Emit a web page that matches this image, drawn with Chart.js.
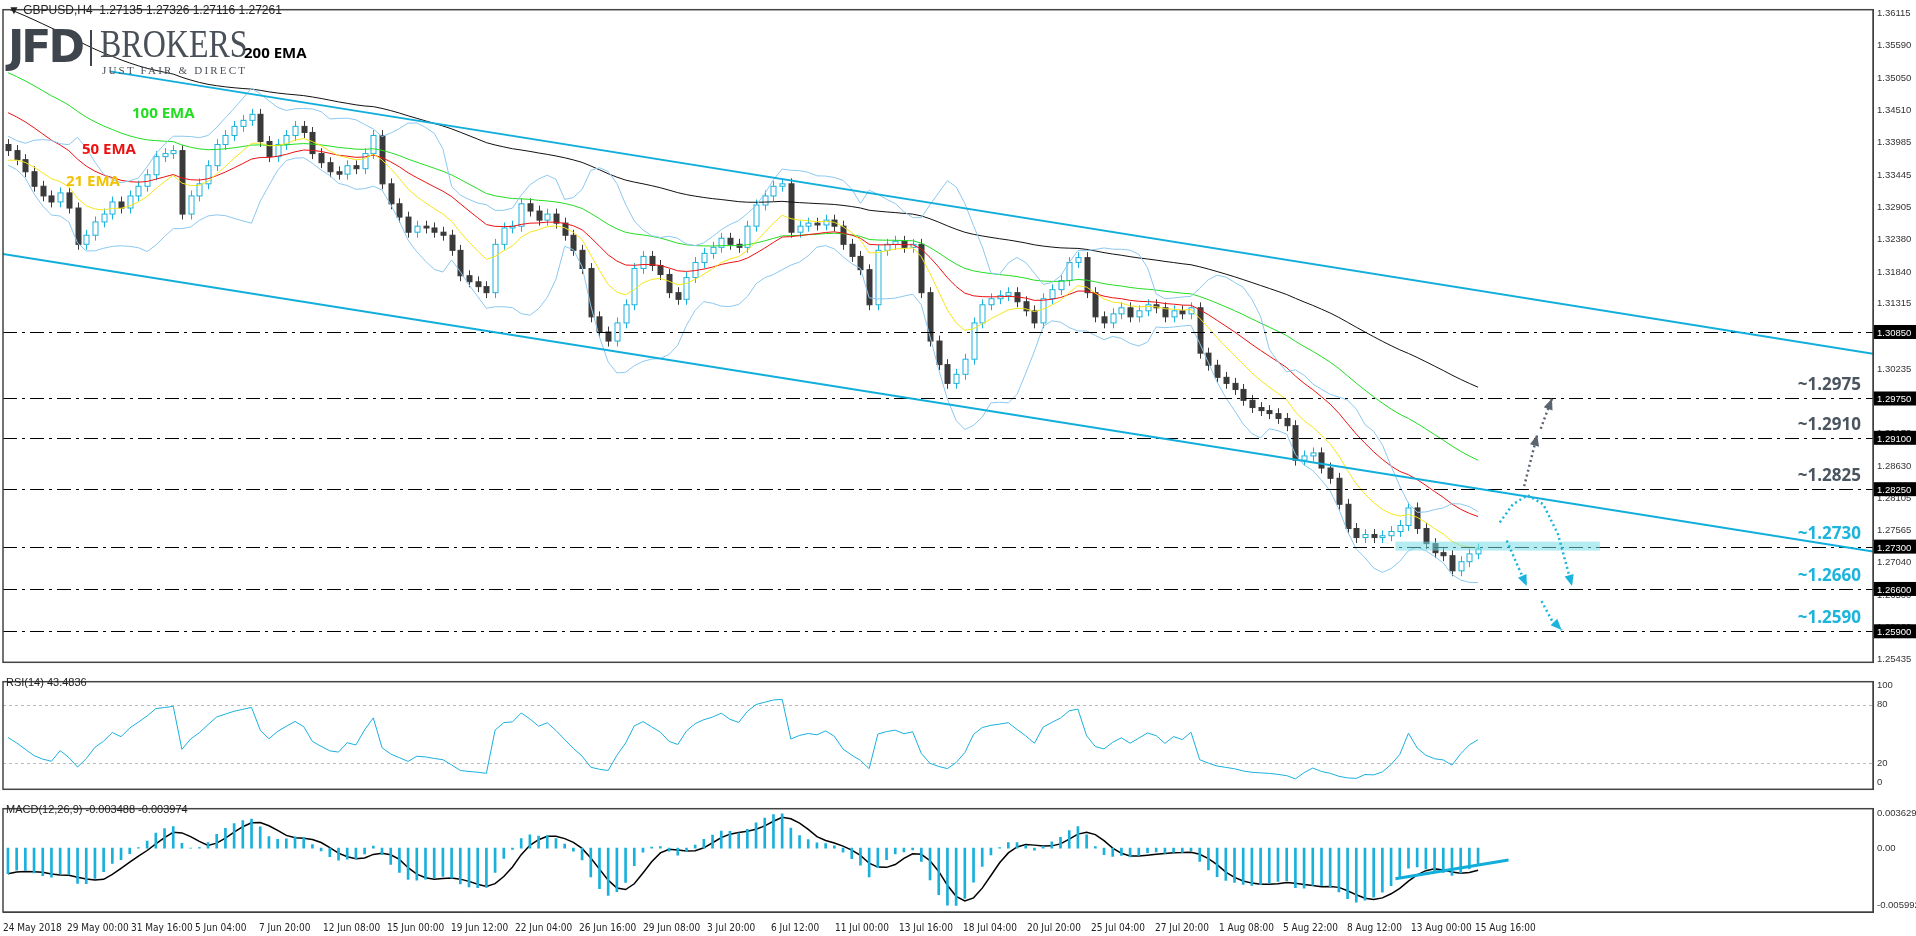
<!DOCTYPE html>
<html><head><meta charset="utf-8">
<script src="https://cdn.jsdelivr.net/npm/chart.js@4.4.1/dist/chart.umd.min.js"></script>
<style>
body{margin:0;background:#fff;width:1916px;height:936px;overflow:hidden;font-family:"Liberation Sans",Arial,sans-serif;position:relative}
.p{position:absolute;left:0;width:1916px}
.t{position:absolute;white-space:nowrap}
</style></head><body>
<div class="p" style="top:0;height:672px"><canvas id="c1"></canvas></div>
<div class="p" style="top:672px;height:127px"><canvas id="c2"></canvas></div>
<div class="p" style="top:799px;height:137px"><canvas id="c3"></canvas></div>
<div class="t" style="left:8px;top:3px;font-size:12px;color:#222">&#9660; GBPUSD,H4&nbsp; 1.27135 1.27326 1.27116 1.27261</div>
<div class="t" style="left:8px;top:22px;font-family:'DejaVu Sans';font-weight:bold;font-size:44px;line-height:50px;color:#3f454d;letter-spacing:-3px">JFD</div>
<div class="t" style="left:90px;top:30px;width:2px;height:36px;background:#3f454d"></div>
<div class="t" style="left:100px;top:24px;font-family:'Liberation Serif';font-size:40px;line-height:40px;color:#4a5058;transform:scaleX(0.8);transform-origin:0 0">BROKERS</div>
<div class="t" style="left:102px;top:64px;font-family:'Liberation Serif';font-size:11px;color:#4a5058;letter-spacing:2.2px">JUST FAIR &amp; DIRECT</div>
<div class="t" style="left:244px;top:42px;font-family:'Open Sans';font-weight:bold;font-size:15px;color:#000">200 EMA</div>
<div class="t" style="left:132px;top:102px;font-family:'Open Sans';font-weight:bold;font-size:15px;color:#22dd22">100 EMA</div>
<div class="t" style="left:82px;top:138px;font-family:'Open Sans';font-weight:bold;font-size:15px;color:#ee1111">50 EMA</div>
<div class="t" style="left:66px;top:170px;font-family:'Open Sans';font-weight:bold;font-size:15px;color:#f2c200">21 EMA</div>
<div class="t" style="left:6px;top:676px;font-size:11px;color:#222">RSI(14) 43.4836</div>
<div class="t" style="left:6px;top:803px;font-size:11px;color:#222">MACD(12,26,9) -0.003488 -0.003974</div>
<script>
const closes=[1.3385,1.3370,1.3350,1.3326,1.3310,1.3300,1.3315,1.3290,
1.3230,1.3245,1.3267,1.3280,1.3300,1.3290,
1.3310,1.3326,1.3345,1.3375,1.3380,1.3385,
1.3280,1.3310,1.3330,1.3360,1.3395,1.3410,1.3425,1.3435,
1.3445,1.3400,1.3375,1.3395,1.3410,1.3425,1.3415,
1.3380,1.3365,1.3350,1.3346,1.3360,1.3355,1.3380,1.3410,1.3330,
1.3297,1.3275,1.3250,1.3260,1.3257,1.3250,1.3245,1.3220,
1.3178,1.3168,1.3160,1.3150,1.3230,
1.3257,1.3260,1.3297,1.3285,1.3270,1.3280,1.3265,
1.3245,1.3220,1.3190,1.3110,1.3085,1.3070,1.3100,
1.3130,1.3190,1.3210,1.3195,1.3180,1.3150,1.3139,1.3175,
1.3200,1.3215,1.3225,1.3240,1.3230,1.3225,1.3260,1.3295,1.3310,1.3326,
1.3330,1.3250,1.3260,1.3265,1.3262,1.3270,1.3260,1.3230,
1.3210,1.3188,1.3130,1.3220,1.3230,1.3235,1.3225,1.3230,
1.3150,1.3070,1.3031,1.3000,1.3015,1.3040,1.3100,
1.3130,1.3140,1.3145,1.3150,1.3135,1.3120,1.3100,1.3140,
1.3155,1.3170,1.3200,1.3208,1.3150,1.3110,1.3100,
1.3115,1.3125,1.3110,1.3120,1.3130,1.3125,1.3110,1.3120,1.3115,1.3125,
1.3050,1.3030,1.3010,1.3000,1.2990,1.2972,1.2960,
1.2955,1.2950,1.2942,1.2930,1.2873,1.2880,
1.2885,1.2860,1.2843,1.2800,1.2760,1.2745,1.2750,
1.2745,1.2748,1.2755,1.2765,1.2794,1.2760,
1.2735,1.2720,1.2715,1.2690,1.2705,1.2718,1.2726];
const firstOpen=1.3395;
const wick=0.0009;
const dateLabels=["24 May 2018","29 May 00:00","31 May 16:00","5 Jun 04:00","7 Jun 20:00","12 Jun 08:00","15 Jun 00:00","19 Jun 12:00","22 Jun 04:00","26 Jun 16:00","29 Jun 08:00","3 Jul 20:00","6 Jul 12:00","11 Jul 00:00","13 Jul 16:00","18 Jul 04:00","20 Jul 20:00","25 Jul 04:00","27 Jul 20:00","1 Aug 08:00","5 Aug 22:00","8 Aug 12:00","13 Aug 00:00","15 Aug 16:00"];
const priceTicks=[1.36115,1.35590,1.35050,1.34510,1.33985,1.33445,1.32905,1.32380,1.31840,1.31315,1.30775,1.30235,1.29710,1.29170,1.28630,1.28105,1.27565,1.27040,1.26500,1.25960,1.25435];
const levels=[1.30850,1.29750,1.29100,1.28250,1.27300,1.26600,1.25900];
const levelNotes=[["~1.2975",1.2975,"#4a5560"],["~1.2910",1.2910,"#4a5560"],["~1.2825",1.2825,"#4a5560"],["~1.2730",1.2730,"#1cb4dc"],["~1.2660",1.2660,"#1cb4dc"],["~1.2590",1.2590,"#1cb4dc"]];
const emaSeeds={e21:1.3365,e50:1.3454,e100:1.3520,e200:1.3625};
const upperChannel=[[11.7,1.3516],[214.4,1.3049]];
const lowerChannel=[[-0.57,1.3214],[214.4,1.2722]];
const macdTrend=[[159.5,-0.0032],[172.5,-0.00123]];

const XMIN=-0.57,XMAX=214.4;
const opens=closes.map((c,i)=>i?closes[i-1]:firstOpen);
const highs=closes.map((c,i)=>Math.max(c,opens[i])+wick);
const lows=closes.map((c,i)=>Math.min(c,opens[i])-wick);
function ema(a,p,seed){let r=[],v=seed;a.forEach(x=>{v=v+(x-v)*2/(p+1);r.push(v)});return r}
const e21=ema(closes,9,emaSeeds.e21),e50=ema(closes,21,emaSeeds.e50),e100=ema(closes,43,emaSeeds.e100),e200=ema(closes,86,emaSeeds.e200);
const bbU=[],bbL=[];
closes.forEach((c,i)=>{const s=closes.slice(Math.max(0,i-8),i+1);const m=s.reduce((a,b)=>a+b)/s.length;const sd=Math.sqrt(s.reduce((a,b)=>a+(b-m)**2,0)/s.length);bbU.push(m+2*Math.max(sd,0.0012));bbL.push(m-2*Math.max(sd,0.0012));});
let ag=0.0012,al=0.0012;const rsi=closes.map((c,i)=>{const d=c-opens[i];ag=(ag*5+Math.max(d,0))/6;al=(al*5+Math.max(-d,0))/6;return 100-100/(1+ag/al)});
const f=ema(closes,5,1.3370),s=ema(closes,11,1.3405);const macd=f.map((v,i)=>v-s[i]);
const sig=macd.map((v,i)=>{const w=macd.slice(Math.max(0,i-3),i+1);return w.reduce((a,b)=>a+b)/w.length});
const pts=a=>a.map((v,i)=>({x:i,y:v}));
const fontAx={family:"Liberation Sans",size:9.5};
const xHidden={type:'linear',min:XMIN,max:XMAX,display:false};
function yAxis(min,max,ticks,fmt){return{position:'right',min,max,grid:{display:false,drawTicks:false},border:{color:'#333'},
 afterBuildTicks:a=>{a.ticks=ticks.map(v=>({value:v}))},afterFit:a=>{a.width=43},
 ticks:{font:fontAx,color:'#333',padding:4,callback:fmt,autoSkip:false}}}
const frame={id:'frame',afterDraw(ch){const a=ch.chartArea,c=ch.ctx;c.save();c.strokeStyle='#444';c.lineWidth=1.5;c.strokeRect(a.left,a.top,a.right-a.left,a.bottom-a.top);c.restore();}};
const ann={id:'ann',afterDatasetsDraw(ch){const c=ch.ctx,X=ch.scales.x,Y=ch.scales.y,a=ch.chartArea;c.save();
 c.beginPath();c.rect(a.left,a.top,a.right-a.left,a.bottom-a.top);c.clip();
 c.strokeStyle='#000';c.lineWidth=1;c.setLineDash([14,5,3,5]);
 levels.forEach(l=>{const y=Math.round(Y.getPixelForValue(l))+0.5;c.beginPath();c.moveTo(a.left,y);c.lineTo(a.right,y);c.stroke();});
 c.setLineDash([]);c.strokeStyle='#12aedb';c.lineWidth=2;
 [upperChannel,lowerChannel].forEach(l=>{c.beginPath();c.moveTo(X.getPixelForValue(l[0][0]),Y.getPixelForValue(l[0][1]));c.lineTo(X.getPixelForValue(l[1][0]),Y.getPixelForValue(l[1][1]));c.stroke();});
 c.fillStyle='rgba(120,220,230,0.55)';const yb=Y.getPixelForValue(1.2730);c.fillRect(X.getPixelForValue(159.5),yb-5,X.getPixelForValue(183)-X.getPixelForValue(159.5),9);
 function dotted(path,col){c.strokeStyle=col;c.fillStyle=col;c.lineWidth=2.5;c.setLineDash([2,3]);c.beginPath();path.forEach((p,i)=>{const x=X.getPixelForValue(p[0]),y=Y.getPixelForValue(p[1]);i?c.lineTo(x,y):c.moveTo(x,y)});c.stroke();c.setLineDash([]);
  const p1=path[path.length-2],p2=path[path.length-1];const x1=X.getPixelForValue(p1[0]),y1=Y.getPixelForValue(p1[1]),x2=X.getPixelForValue(p2[0]),y2=Y.getPixelForValue(p2[1]);const an=Math.atan2(y2-y1,x2-x1);
  c.beginPath();c.moveTo(x2,y2);c.lineTo(x2-12*Math.cos(an-0.4),y2-12*Math.sin(an-0.4));c.lineTo(x2-12*Math.cos(an+0.4),y2-12*Math.sin(an+0.4));c.closePath();c.fill();}
 dotted([[174.3,1.2830],[175.8,1.2915]],'#5a6570');dotted([[176.2,1.2925],[177.5,1.2975]],'#5a6570');
 dotted([[171.5,1.2770],[173,1.2800],[174.7,1.2815],[176.5,1.2800],[178.2,1.2750],[179.8,1.2665]],'#1cb4dc');
 dotted([[172.3,1.2740],[173.5,1.2700],[174.6,1.2665]],'#1cb4dc');
 dotted([[176.3,1.2640],[177.4,1.2610],[178.6,1.2592]],'#1cb4dc');
 c.restore();c.save();
 levelNotes.forEach(n=>{c.font="bold 17px 'Open Sans'";c.fillStyle=n[2];c.textAlign='right';c.fillText(n[0],a.right-12,Y.getPixelForValue(n[1])-8);});
 c.font="9.5px 'Liberation Sans'";levels.forEach(l=>{const y=Y.getPixelForValue(l);c.fillStyle='#000';c.fillRect(a.right+1,y-7,42,14);c.fillStyle='#fff';c.textAlign='left';c.fillText(l.toFixed(5),a.right+4,y+4);});
 c.restore();}};
const candle={id:'candle',beforeDatasetsDraw(ch){const c=ch.ctx,X=ch.scales.x,Y=ch.scales.y;c.save();
 closes.forEach((cl,i)=>{const x=Math.round(X.getPixelForValue(i))+0.5,bull=cl>=opens[i];const col=bull?'#1ab2de':'#3a3a3a';
  c.strokeStyle=col;c.lineWidth=1;c.beginPath();c.moveTo(x,Y.getPixelForValue(highs[i]));c.lineTo(x,Y.getPixelForValue(lows[i]));c.stroke();
  const yt=Y.getPixelForValue(Math.max(cl,opens[i])),yb=Y.getPixelForValue(Math.min(cl,opens[i]));
  c.fillStyle=bull?'#ffffff':'#3a3a3a';c.fillRect(x-2.5,yt,5,Math.max(yb-yt,1));c.strokeRect(x-2.5,yt,5,Math.max(yb-yt,1));});
 c.restore();}};
const lineDs=(d,col,w)=>({type:'line',data:pts(d),borderColor:col,borderWidth:w||1,pointRadius:0,tension:0});
new Chart(document.getElementById('c1'),{type:'line',data:{datasets:[
 lineDs(bbU,'#8cc8f0'),lineDs(bbL,'#8cc8f0'),lineDs(e21,'#f5e61a'),lineDs(e50,'#ee1111'),lineDs(e100,'#22dd22'),lineDs(e200,'#111')]},
 options:{animation:false,responsive:true,maintainAspectRatio:false,layout:{padding:{top:2,left:3,bottom:2,right:0}},
 plugins:{legend:{display:false},tooltip:{enabled:false}},
 scales:{x:xHidden,y:yAxis(1.25387,1.36180,priceTicks,v=>v.toFixed(5))}},plugins:[candle,ann,frame]});
const rsiLines={id:'rl',beforeDatasetsDraw(ch){const c=ch.ctx,Y=ch.scales.y,a=ch.chartArea;c.save();c.strokeStyle='#bbb';c.setLineDash([3,3]);[80,20].forEach(v=>{const y=Math.round(Y.getPixelForValue(v))+0.5;c.beginPath();c.moveTo(a.left,y);c.lineTo(a.right,y);c.stroke();});c.restore();}};
new Chart(document.getElementById('c2'),{type:'line',data:{datasets:[lineDs(rsi,'#1ab0dc')]},
 options:{animation:false,responsive:true,maintainAspectRatio:false,layout:{padding:{top:2,left:3,bottom:0}},
 plugins:{legend:{display:false},tooltip:{enabled:false}},
 scales:{x:xHidden,y:yAxis(-7.2,103.6,[100,80,20,0],v=>v)}},plugins:[rsiLines,frame]});
const mTrend={id:'mt',afterDatasetsDraw(ch){const c=ch.ctx,X=ch.scales.x,Y=ch.scales.y;c.save();c.strokeStyle='#12aedb';c.lineWidth=3;c.beginPath();c.moveTo(X.getPixelForValue(macdTrend[0][0]),Y.getPixelForValue(macdTrend[0][1]));c.lineTo(X.getPixelForValue(macdTrend[1][0]),Y.getPixelForValue(macdTrend[1][1]));c.stroke();c.restore();}};
const dateTickVals=dateLabels.map((l,k)=>64*k/8.699+XMIN);
new Chart(document.getElementById('c3'),{type:'bar',data:{datasets:[
 {type:'bar',data:pts(macd),backgroundColor:'#1ab0dc',barThickness:2,grouped:false},
 lineDs(sig,'#000',1.5)]},
 options:{animation:false,responsive:true,maintainAspectRatio:false,layout:{padding:{top:2,left:3,bottom:0}},
 plugins:{legend:{display:false},tooltip:{enabled:false}},
 scales:{x:{type:'linear',min:XMIN,max:XMAX,offset:false,grid:{display:false},border:{color:'#333'},
   afterBuildTicks:a=>{a.ticks=dateTickVals.map(v=>({value:v}))},
   ticks:{font:{family:"DejaVu Sans Condensed, Liberation Sans",size:10},color:'#222',maxRotation:0,autoSkip:false,align:'start',padding:2,callback:(v,i)=>dateLabels[i]}},
  y:yAxis(-0.00665,0.0041,[0.003629,0,-0.005992],v=>v===0?'0.00':v.toFixed(6))}},plugins:[mTrend,frame]});
</script></body></html>
